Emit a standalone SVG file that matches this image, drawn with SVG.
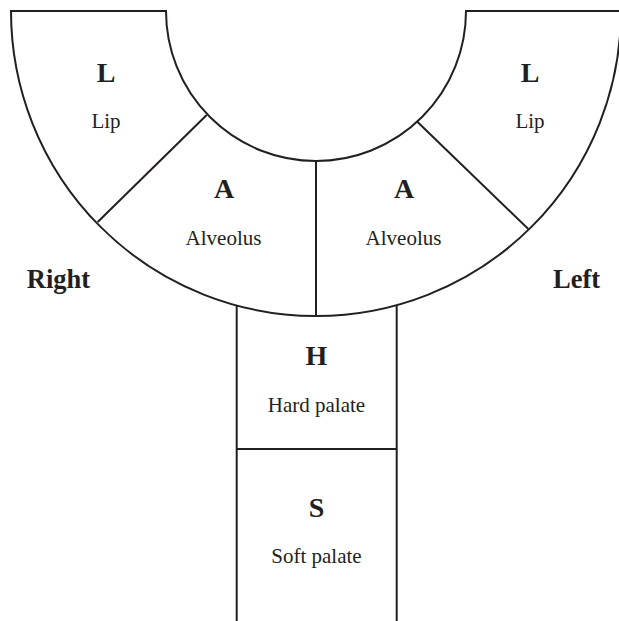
<svg xmlns="http://www.w3.org/2000/svg" width="619" height="621" viewBox="0 0 619 621">
  <style>
    .ln { fill: none; stroke: #231f20; stroke-width: 2; }
    .big { font-family: "Liberation Serif", "Times New Roman", serif; font-weight: bold; font-size: 28px; fill: #231f20; text-anchor: middle; }
    .side { font-family: "Liberation Serif", "Times New Roman", serif; font-weight: bold; font-size: 26.5px; fill: #231f20; text-anchor: middle; }
    .sm { font-family: "Liberation Serif", "Times New Roman", serif; font-size: 21px; fill: #231f20; text-anchor: middle; }
  </style>
  <rect width="619" height="621" fill="#ffffff"/>
  <g id="outline">
    <path class="ln" d="M 11 11 L 166 11 A 150 150 0 0 0 466 11 L 621 11 A 305 305 0 0 1 11 11 Z"/>
    <line class="ln" x1="206.7" y1="115" x2="97.7" y2="222"/>
    <line class="ln" x1="417.3" y1="121.7" x2="528.3" y2="229"/>
    <line class="ln" x1="316" y1="161" x2="316" y2="316"/>
    <line class="ln" x1="236.7" y1="305.5" x2="236.7" y2="621"/>
    <line class="ln" x1="396.7" y1="305.1" x2="396.7" y2="621"/>
    <line class="ln" x1="236.7" y1="449" x2="396.7" y2="449"/>
  </g>
  <g id="lip-right">
    <text class="big" x="106" y="82">L</text>
    <text class="sm" x="106" y="128">Lip</text>
  </g>
  <g id="lip-left">
    <text class="big" x="530" y="82">L</text>
    <text class="sm" x="530" y="128">Lip</text>
  </g>
  <g id="alveolus-right">
    <text class="big" x="224" y="198">A</text>
    <text class="sm" x="223.5" y="245">Alveolus</text>
  </g>
  <g id="alveolus-left">
    <text class="big" x="404" y="198">A</text>
    <text class="sm" x="403.5" y="245">Alveolus</text>
  </g>
  <g id="hard-palate">
    <text class="big" x="316.5" y="365">H</text>
    <text class="sm" x="316.5" y="411.7">Hard palate</text>
  </g>
  <g id="soft-palate">
    <text class="big" x="316.5" y="516.7">S</text>
    <text class="sm" x="316.5" y="563">Soft palate</text>
  </g>
  <g id="side-labels">
    <text class="side" x="58.5" y="288">Right</text>
    <text class="side" x="576.5" y="288">Left</text>
  </g>
</svg>
